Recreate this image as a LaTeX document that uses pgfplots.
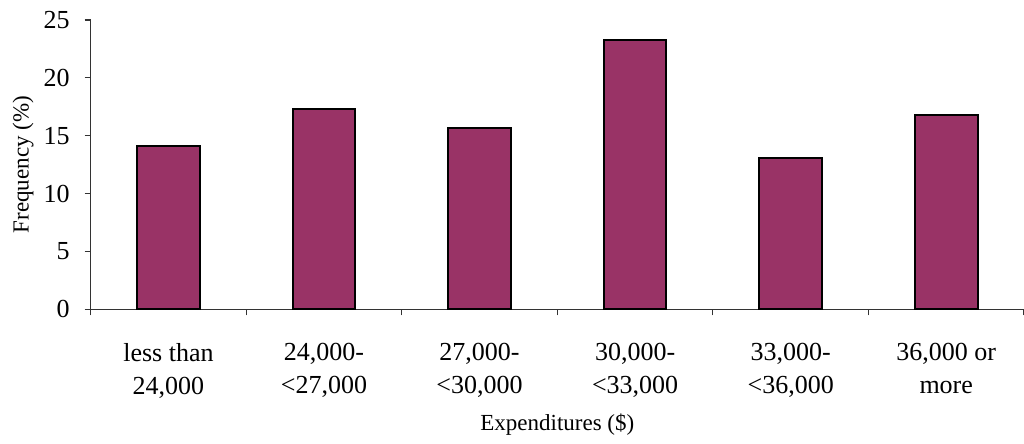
\documentclass[border=0pt]{standalone}
\usepackage{pgfplots}
\pgfplotsset{compat=1.18}
\usepackage{fontspec}
\setmainfont{Liberation Serif}
\definecolor{plum}{HTML}{993366}
\begin{document}
\begin{tikzpicture}
% fixed page frame: 1px = 0.5pt
\path[use as bounding box] (-45.35pt,-67.35pt) rectangle (466.65pt,154.65pt);
\begin{axis}[
    at={(0,0)}, anchor=south west,
    scale only axis,
    width=466.65pt, height=144.65pt,
    axis lines*=left,
    axis line style={draw=black!80, line width=0.6pt},
    xmin=-0.5, xmax=5.5,
    ymin=0, ymax=25,
    ytick={0,5,...,25},
    xtick={0,...,5},
    xticklabels={{less than\\24,000},{24,000-\\<27,000},{27,000-\\<30,000},{30,000-\\<33,000},{33,000-\\<36,000},{36,000 or\\more}},
    minor xtick={-0.5,0.5,...,5.5},
    major x tick style={draw=none},
    minor tick length=3pt,
    major tick length=3pt,
    tick align=outside,
    tick style={draw=black!80, line width=0.6pt},
    /pgf/number format/assume math mode=true,
    ticklabel style={font=\fontsize{13}{16.5}\selectfont},
    xticklabel style={align=center, yshift=-10.5pt},
    yticklabel style={xshift=-4pt},
    xlabel={Expenditures (\$)},
    ylabel={Frequency (\%)},
    label style={font=\fontsize{11.5}{13}\selectfont},
    xlabel style={at={(axis description cs:0.5,-0.4)}, anchor=center},
    ylabel style={at={(axis description cs:-0.0725,0.5)}, anchor=center, rotate=0},
    ybar, bar width=31.3pt,
    clip=false,
]
\addplot[fill=plum, draw=black, line width=1pt]
    coordinates {(0,14.1) (1,17.3) (2,15.7) (3,23.3) (4,13.05) (5,16.8)};
\end{axis}
\end{tikzpicture}
\end{document}
